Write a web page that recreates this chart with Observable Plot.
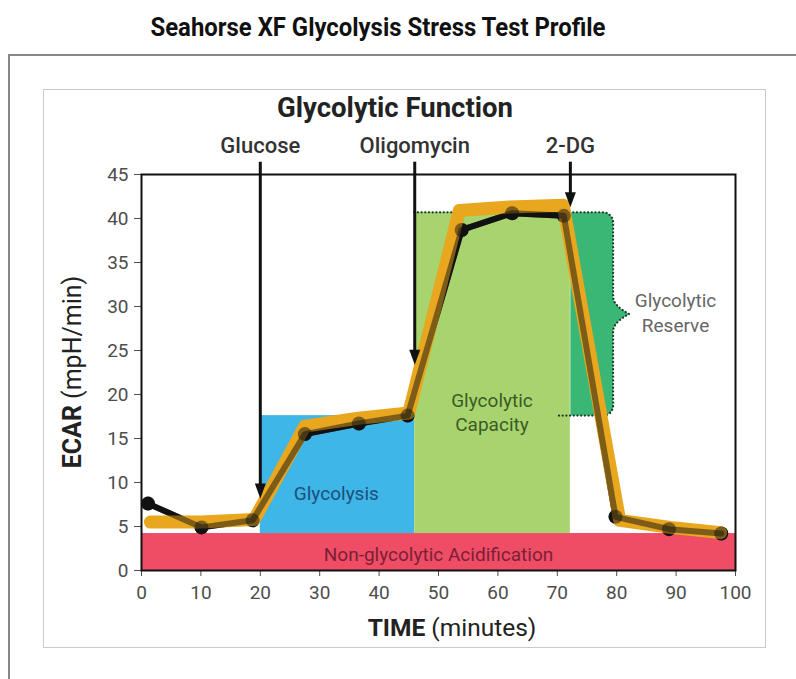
<!DOCTYPE html>
<html><head><meta charset="utf-8">
<script src="https://cdn.jsdelivr.net/npm/d3@7"></script>
<script src="https://cdn.jsdelivr.net/npm/@observablehq/plot@0.6"></script>
<style>
html,body{margin:0;padding:0;background:#fff;overflow:hidden;width:796px;height:679px;}
#title{position:absolute;left:378px;top:16px;line-height:24px;font-family:Roboto,sans-serif;font-weight:bold;font-size:25px;color:#111;white-space:nowrap;transform-origin:0 0;}
#outer{position:absolute;left:8px;top:54px;width:900px;height:700px;border-left:2px solid #888;border-top:2px solid #888;}
#inner{position:absolute;left:43px;top:89px;width:721px;height:557px;border:1px solid #cacaca;}
#chart{position:absolute;left:43px;top:89px;}
.lab{position:absolute;white-space:nowrap;transform:translate(-50%,-50%);font-family:Roboto,sans-serif;color:#222;line-height:1}
#ftitle{left:395px;top:108px;font-size:27.5px;font-weight:bold;}
#ylab{left:72px;top:372px;font-size:25px;transform:translate(-50%,-50%) rotate(-90deg);}
#xlab{left:452px;top:628px;font-size:24.5px;}
</style></head>
<body>
<div id="title">Seahorse XF Glycolysis Stress Test Profile</div>
<div id="outer"></div>
<div id="inner"></div>
<div id="chart"></div>
<div class="lab" id="ftitle">Glycolytic Function</div>
<div class="lab" id="ylab"><b>ECAR</b> (mpH/min)</div>
<div class="lab" id="xlab"><b>TIME</b> (minutes)</div>
<script>
// ---- data ----
const times = [1.1, 10.1, 18.7, 27.5, 36.6, 44.8, 53.9, 62.4, 71.1, 79.8, 88.8, 97.6];
const ecar  = [7.6, 4.9, 5.7, 15.5, 16.7, 17.6, 38.7, 40.6, 40.3, 6.1, 4.7, 4.2];
const bandTimes = [1.5, 10, 19, 27.5, 36.5, 45, 53.5, 62, 71, 80.5, 89, 97.5];
const bandEcar  = [5.5, 5.5, 5.8, 16.4, 17.3, 17.9, 40.9, 41.3, 41.5, 5.7, 4.9, 4.3];
const xTicks = [0, 10, 20, 30, 40, 50, 60, 70, 80, 90, 100];
const yTicks = [0, 5, 10, 15, 20, 25, 30, 35, 40, 45];
const regionX1 = [0, 20, 46];
const regionX2 = [100, 46, 72.2];
const regionY1 = [0, 4.2, 4.2];
const regionY2 = [4.2, 17.6, 40.7];
const regionColors = ["#ef4c65", "#3fb6e8", "#a8d46f"];
const reserveX = [72.2, 79.4];
const reserveY = [17.6, 40.7];
const reserveColor = "#3ab775";
const dottedStart = [45.9, 70];
const injections = ["Glucose", "Oligomycin", "2-DG"];
const injectionTimes = [20, 46, 72.2];
const injectionTips = [8.3, 23.5, 41.4];
const arrowTop = 46.4;
const injectionLabelY = 48.3;
const labelTexts = ["Non-glycolytic Acidification", "Glycolysis", "Glycolytic\nCapacity", "Glycolytic\nReserve"];
const labelX = [50, 32.8, 59, 89.9];
const labelY = [2.0, 8.9, 18.1, 29.4];
const labelColors = ["#7a1f35", "#1d4f7a", "#3d5a25", "#666666"];

// ---- page title: condensed to the reference width ----
const t = document.getElementById("title");
const tw = t.getBoundingClientRect().width, sx = 455 / tw;
t.style.transform = `translateX(${-tw * sx / 2}px) scaleX(${sx})`;

// ---- layout ----
const W = 722, H = 558, mL = 98, mR = 30, mT = 85, mB = 77;
const kx = (W - mL - mR) / 100, ky = (H - mT - mB) / 45;

function outline(xStart, xEnd) {
  const [y1, y2] = reserveY, x2 = reserveX[1];
  const r = 10, bh = 17, bw = 16, ym = (y1 + y2) / 2;
  const pts = [[xStart, y2]];
  for (let i = 0; i <= 8; i++) { const a = Math.PI / 2 * (1 - i / 8);
    pts.push([x2 - r / kx + r * Math.cos(a) / kx, y2 - r / ky + r * Math.sin(a) / ky]); }
  pts.push([x2, ym + bh / ky]);
  for (let i = 1; i <= 10; i++) { const s = i / 10; pts.push([x2 + bw * s * s / kx, ym + bh * (1 - s) / ky]); }
  for (let i = 1; i <= 10; i++) { const s = 1 - i / 10; pts.push([x2 + bw * s * s / kx, ym - bh * (1 - s) / ky]); }
  for (let i = 0; i <= 8; i++) { const a = -Math.PI / 2 * (i / 8);
    pts.push([x2 - r / kx + r * Math.cos(a) / kx, y1 + r / ky + r * Math.sin(a) / ky]); }
  pts.push([xEnd, y1]);
  return pts.map(([x, y]) => ({x, y}));
}

const arrowHead = {draw(ctx) { ctx.moveTo(0, 1); ctx.lineTo(-5.5, -14); ctx.lineTo(5.5, -14); ctx.closePath(); }};

const ri = d3.range(regionX1.length), pi = d3.range(times.length), bi = d3.range(bandTimes.length);
const ai = d3.range(injections.length), li = d3.range(labelTexts.length);
const X = i => times[i], Y = i => ecar[i];

const chart = Plot.plot({
  width: W, height: H, marginLeft: mL, marginRight: mR, marginTop: mT, marginBottom: mB,
  x: {domain: [0, 100], ticks: xTicks, tickSize: 6, tickPadding: 9, label: null},
  y: {domain: [0, 45], ticks: yTicks, tickSize: 7, tickPadding: 6, label: null},
  color: {type: "identity"},
  style: {fontFamily: "Roboto, sans-serif", fontSize: "19px", color: "#4d4d4d", background: "transparent", overflow: "visible"},
  marks: [
    Plot.rect(ri, {x1: i => regionX1[i], x2: i => regionX2[i], y1: i => regionY1[i], y2: i => regionY2[i], fill: i => regionColors[i]}),
    Plot.line(outline(reserveX[0], reserveX[0]), {x: "x", y: "y", fill: reserveColor, stroke: "none"}),
    Plot.line(outline(dottedStart[0], dottedStart[1]), {x: "x", y: "y", stroke: "#1c3a2a", strokeWidth: 2.2, strokeDasharray: "0.1,3.6", strokeLinecap: "round"}),
    Plot.line(pi, {x: X, y: Y, stroke: "#111", strokeWidth: 6}),
    Plot.dot(pi, {x: X, y: Y, r: 7, fill: "#111"}),
    Plot.line(bi, {x: i => bandTimes[i], y: i => bandEcar[i], stroke: "#e9a61f", strokeWidth: 13, strokeLinejoin: "round"}),
    Plot.line(pi, {x: X, y: Y, stroke: "#111", strokeWidth: 6, strokeOpacity: 0.5}),
    Plot.dot(pi, {x: X, y: Y, r: 7, fill: "#111", fillOpacity: 0.5}),
    Plot.text(li, {x: i => labelX[i], y: i => labelY[i], text: i => labelTexts[i], fill: i => labelColors[i], fontSize: 19, lineHeight: 1.3}),
    Plot.ruleX(ai, {x: i => injectionTimes[i], y1: arrowTop, y2: i => injectionTips[i] + 1.2, stroke: "#111", strokeWidth: 3}),
    Plot.dot(ai, {x: i => injectionTimes[i], y: i => injectionTips[i], symbol: arrowHead, r: 5, fill: "#111", stroke: "none"}),
    Plot.text(ai, {x: i => injectionTimes[i], y: injectionLabelY, text: i => injections[i], fontSize: 22, fontWeight: 500, fill: "#333"}),
    Plot.frame({stroke: "#111", strokeWidth: 2})
  ]
});
document.getElementById("chart").appendChild(chart);
</script>
</body></html>
